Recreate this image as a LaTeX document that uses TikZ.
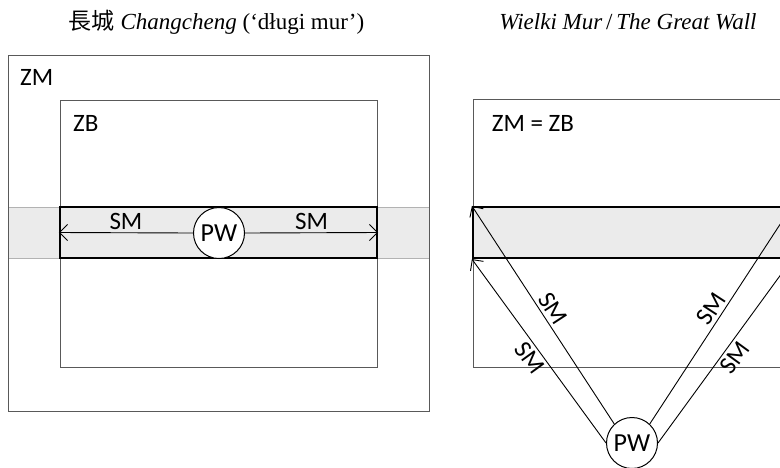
\documentclass[tikz,border=0pt]{standalone}
\usepackage{fontspec}
\setmainfont{Liberation Serif}
\setsansfont{Carlito}
\newfontfamily\cjk{Noto Sans CJK TC}
\usetikzlibrary{arrows.meta}

\begin{document}
\begin{tikzpicture}[x=1pt, y=-1pt,
  zone/.style 2 args={draw=black!65, line width=0.8pt, minimum width=#1pt,
              minimum height=#2pt, inner sep=0pt},
  band/.style 2 args={draw=black!30, line width=0.6pt, fill=black!8,
              minimum width=#1pt, minimum height=#2pt, inner sep=0pt},
  wall/.style 2 args={draw, line width=2.2pt, fill=black!8, minimum width=#1pt,
              minimum height=#2pt, inner sep=0pt},
  pw/.style={circle, draw, line width=1pt, fill=white, minimum size=51pt,
             inner sep=0pt, font=\sffamily\fontsize{26}{26}\selectfont},
  lbl/.style={anchor=base west, inner sep=0pt, font=\sffamily\fontsize{25}{28}\selectfont},
  sm/.style={inner sep=3pt, font=\sffamily\fontsize{25}{28}\selectfont},
  title/.style={anchor=base, inner sep=0pt, font=\fontsize{23}{27}\selectfont},
  line/.style={-{Straight Barb[length=8pt,width=16pt]}, line width=0.9pt}
]
\clip (0,0) rectangle (780,467);
% titles
\node[title] (tl) at (216.5,29.5) {{\cjk 長城} \textit{Changcheng} (‘długi mur’)};
\node[title] (tr) at (628,29) {\textit{Wielki Mur}\,/\,\textit{The Great Wall}};

% left: Changcheng
\node[band={421}{51}]  (bandl) at (218.5,232.5) {};
\node[zone={421}{356}] (zm)    at (218.5,233) {};
\node[zone={317}{267}] (zb)    at (218.5,233.5) {};
\node[wall={317}{51}]  (walll) at (218.5,232.5) {};
\node[pw]              (pwl)   at (219,233) {PW};
\node[lbl] (zmlbl) at (20,85.7)  {ZM};
\node[lbl] (zblbl) at (73,131.7) {ZB};
\draw[line] (pwl.west) -- node[sm, above]{SM} (walll.west);
\draw[line] (pwl.east) -- node[sm, above]{SM} (walll.east);

% right: Great Wall
\node[zone={318}{268}] (zmzb)  at (632,233) {};
\node[wall={318}{51}]  (wallr) at (632,232.5) {};
\node[pw]              (pwr)   at (632,443) {PW};
\node[lbl] (eqlbl) at (491.7,131.7) {ZM = ZB};
\draw[line] (pwr.west) -- node[sm, sloped, below]{SM} (wallr.south west);
\draw[line] (pwr.133)  -- node[sm, sloped, above]{SM} (wallr.north west);
\draw[line] (pwr.east) -- node[sm, sloped, below]{SM} (wallr.south east);
\draw[line] (pwr.47)   -- node[sm, sloped, above]{SM} (wallr.north east);
\end{tikzpicture}
\end{document}
